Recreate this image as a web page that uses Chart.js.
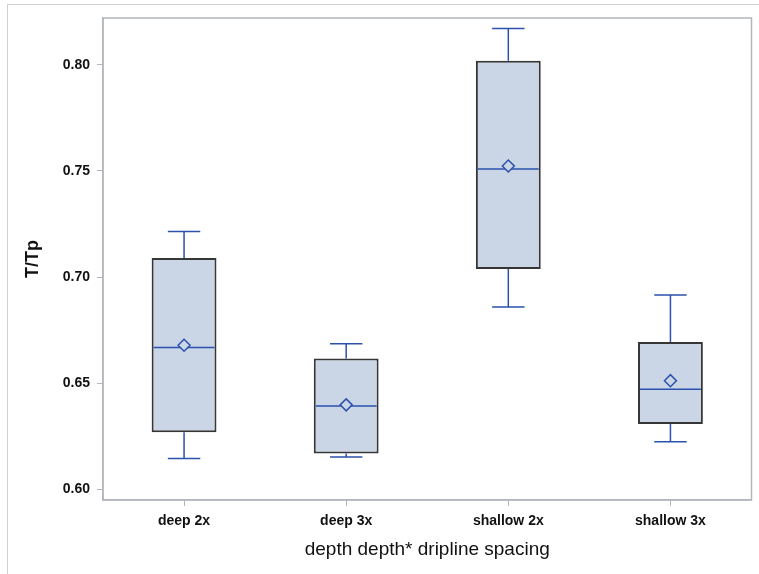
<!DOCTYPE html>
<html>
<head>
<meta charset="utf-8">
<script src="https://cdn.jsdelivr.net/npm/chart.js@4/dist/chart.umd.min.js"></script>
<style>
  html, body { margin: 0; padding: 0; background: #fff; }
  canvas { display: block; }
</style>
</head>
<body>
<canvas id="boxChart" width="759" height="574"></canvas>
<script>
const categories = ['deep 2x', 'deep 3x', 'shallow 2x', 'shallow 3x'];
const minVals    = [0.6145, 0.6153, 0.6859, 0.6224];
const q1Vals     = [0.6269, 0.6169, 0.7038, 0.6308];
const medianVals = [0.6668, 0.6393, 0.7509, 0.6472];
const q3Vals     = [0.7090, 0.6616, 0.8019, 0.6694];
const maxVals    = [0.7214, 0.6686, 0.8171, 0.6916];
const meanVals   = [0.6679, 0.6398, 0.7523, 0.6512];
const yTicks     = [0.60, 0.65, 0.70, 0.75, 0.80];

const boxFill = '#cad5e5';
const boxEdge = '#363636';
const lineBlue = '#2b51ad';
const axisGrey = '#b3b6ba';

// whiskers and median lines, placed with the chart's own scales
const boxExtras = {
  id: 'boxExtras',
  afterDatasetDraw(chart, args) {
    if (args.index !== 1) return;
    const ctx = chart.ctx;
    const y = chart.scales.y;
    ctx.save();
    ctx.strokeStyle = lineBlue;
    ctx.lineWidth = 1.5;
    args.meta.data.forEach((bar, i) => {
      const cx = bar.x;
      const half = bar.width / 2;
      const cap = half / 2;
      const yMin = y.getPixelForValue(minVals[i]);
      const yMax = y.getPixelForValue(maxVals[i]);
      const yQ1 = y.getPixelForValue(q1Vals[i]);
      const yQ3 = y.getPixelForValue(q3Vals[i]);
      const yMed = y.getPixelForValue(medianVals[i]);
      ctx.beginPath();
      ctx.moveTo(cx, yQ3); ctx.lineTo(cx, yMax);
      ctx.moveTo(cx - cap, yMax); ctx.lineTo(cx + cap, yMax);
      ctx.moveTo(cx, yQ1); ctx.lineTo(cx, yMin);
      ctx.moveTo(cx - cap, yMin); ctx.lineTo(cx + cap, yMin);
      ctx.moveTo(cx - half + 2, yMed); ctx.lineTo(cx + half - 2, yMed);
      ctx.stroke();
    });
    ctx.restore();
  }
};

// outer panel border and the frame round the plot area
const frames = {
  id: 'frames',
  beforeDraw(chart) {
    const ctx = chart.ctx;
    ctx.save();
    ctx.strokeStyle = '#d0d0d0';
    ctx.lineWidth = 1;
    ctx.strokeRect(7.5, 4.5, 900, 900);
    ctx.restore();
  },
  afterDraw(chart) {
    const {left, top, right, bottom} = chart.chartArea;
    const ctx = chart.ctx;
    ctx.save();
    ctx.strokeStyle = axisGrey;
    ctx.lineWidth = 1.5;
    ctx.strokeRect(left, top, right - left, bottom - top);
    ctx.restore();
  }
};

new Chart(document.getElementById('boxChart'), {
  data: {
    labels: categories,
    datasets: [
      {
        type: 'line',
        label: 'Mean',
        data: meanVals,
        showLine: false,
        pointStyle: 'rectRot',
        pointRadius: 6,
        pointBorderWidth: 1.5,
        pointBorderColor: lineBlue,
        pointBackgroundColor: boxFill
      },
      {
        type: 'bar',
        label: 'T/Tp',
        data: q1Vals.map((q1, i) => [q1, q3Vals[i]]),
        backgroundColor: boxFill,
        borderColor: boxEdge,
        borderWidth: 2,
        borderSkipped: false,
        categoryPercentage: 1,
        barPercentage: 0.4
      }
    ]
  },
  options: {
    responsive: false,
    animation: false,
    layout: { padding: { left: 0, top: 18, right: 3, bottom: 0 } },
    plugins: {
      legend: { display: false },
      tooltip: { enabled: false }
    },
    scales: {
      x: {
        type: 'category',
        offset: true,
        grid: { drawOnChartArea: false, offset: false, color: axisGrey, tickLength: 6 },
        border: { color: axisGrey, width: 1.5 },
        ticks: {
          color: '#111',
          padding: 7,
          font: { family: 'Liberation Sans', size: 14, weight: 'bold' }
        },
        title: {
          display: true,
          text: 'depth depth* dripline spacing',
          color: '#111',
          font: { family: 'Liberation Sans', size: 19 },
          padding: { top: 0, bottom: 13 }
        },
        afterFit(scale) { scale.height = 74; }
      },
      y: {
        type: 'linear',
        min: 0.595,
        max: 0.822,
        grid: { drawOnChartArea: false, color: axisGrey, tickLength: 6 },
        border: { color: axisGrey, width: 1.5 },
        ticks: {
          color: '#111',
          padding: 7,
          font: { family: 'Liberation Sans', size: 14, weight: 'bold' },
          callback: v => v.toFixed(2)
        },
        afterBuildTicks(scale) { scale.ticks = yTicks.map(v => ({ value: v })); },
        title: {
          display: true,
          text: 'T/Tp',
          color: '#111',
          font: { family: 'Liberation Sans', size: 18, weight: 'bold' },
          padding: { top: 22, bottom: 0 }
        },
        afterFit(scale) { scale.width = 103; }
      }
    }
  },
  plugins: [boxExtras, frames]
});
</script>
</body>
</html>
